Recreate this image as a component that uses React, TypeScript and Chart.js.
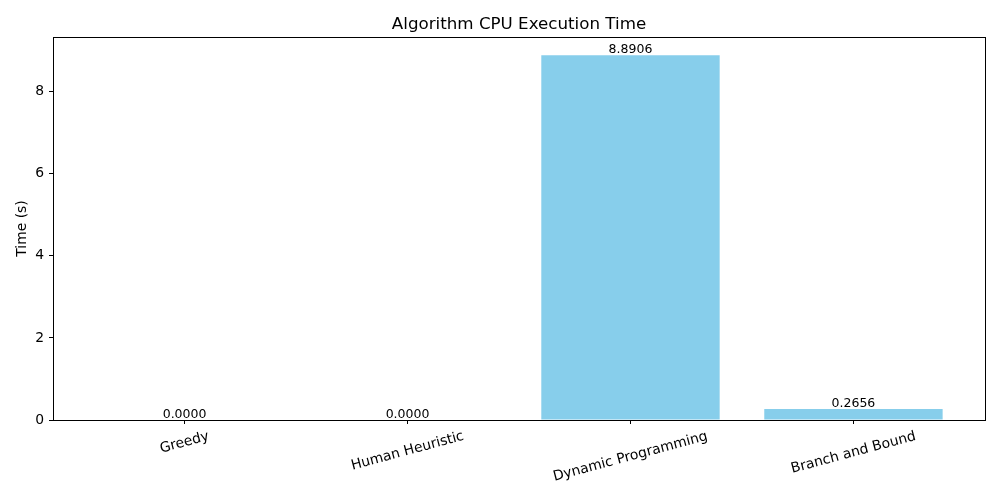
import React, { useEffect, useRef } from "react";
import { Chart, registerables } from "chart.js";

Chart.register(...registerables);

const categories = ["Greedy", "Human Heuristic", "Dynamic Programming", "Branch and Bound"];
const times = [0.0, 0.0, 8.8906, 0.2656];
const yTicks = [0, 2, 4, 6, 8];
const titleText = "Algorithm CPU Execution Time";
const yLabel = "Time (s)";

const FONT = "'DejaVu Sans', sans-serif";

const overlay = {
  id: "overlay",
  afterDraw(chart: any) {
    const ctx = chart.ctx;
    const ca = chart.chartArea;
    const xs = chart.scales.x;
    const ys = chart.scales.y;
    ctx.save();
    // axes box
    ctx.strokeStyle = "#000";
    ctx.lineWidth = 1;
    ctx.strokeRect(Math.round(ca.left) + 0.5, Math.round(ca.top) + 0.5, Math.round(ca.right - ca.left), Math.round(ca.bottom - ca.top));
    // title
    ctx.fillStyle = "#000";
    ctx.font = `16.7px ${FONT}`;
    ctx.textAlign = "center";
    ctx.textBaseline = "alphabetic";
    ctx.fillText(titleText, (ca.left + ca.right) / 2, ca.top - 8.5);
    // y label
    ctx.save();
    ctx.translate(22, (ca.top + ca.bottom) / 2);
    ctx.rotate(-Math.PI / 2);
    ctx.font = `13.9px ${FONT}`;
    ctx.textBaseline = "middle";
    ctx.fillText(yLabel, 0, 0);
    ctx.restore();
    // bar value labels
    ctx.font = `12.5px ${FONT}`;
    ctx.textAlign = "center";
    ctx.textBaseline = "bottom";
    times.forEach((v, i) => {
      ctx.fillText(v.toFixed(4), xs.getPixelForValue(i), ys.getPixelForValue(v) + 1);
    });
    // x tick labels rotated 15deg, centered on tick
    ctx.font = `13.9px ${FONT}`;
    ctx.textAlign = "center";
    ctx.textBaseline = "middle";
    const ang = (15 * Math.PI) / 180;
    const h = 16;
    categories.forEach((c, i) => {
      const w = ctx.measureText(c).width;
      const bboxH = w * Math.sin(ang) + h * Math.cos(ang);
      const cx = xs.getPixelForValue(i);
      const cy = ca.bottom + 3.5 + 4.9 + bboxH / 2;
      ctx.save();
      ctx.translate(cx, cy);
      ctx.rotate(-ang);
      ctx.fillText(c, 0, 0);
      ctx.restore();
    });
    ctx.restore();
  },
};

export default function App() {
  const ref = useRef<HTMLCanvasElement>(null);
  useEffect(() => {
    const chart = new Chart(ref.current!, {
      type: "bar",
      data: {
        datasets: [
          {
            data: times.map((v, i) => ({ x: i, y: v })),
            backgroundColor: "#87CEEB",
            borderColor: "#87CEEB",
            borderWidth: 0,
            inflateAmount: 0,
            barPercentage: 0.8,
            categoryPercentage: 1,
          },
        ],
      },
      options: {
        responsive: false,
        animation: false,
        devicePixelRatio: 1,
        layout: { padding: { top: 37, right: 15, left: 0, bottom: 0 } },
        plugins: { legend: { display: false }, title: { display: false }, tooltip: { enabled: false } },
        scales: {
          x: {
            type: "linear",
            offset: false,
            min: -0.59,
            max: 3.59,
            afterBuildTicks: (s: any) => {
              s.ticks = categories.map((_, i) => ({ value: i }));
            },
            afterFit: (s: any) => {
              s.height = 80;
            },
            ticks: { display: false },
            grid: { offset: false, drawOnChartArea: false, drawTicks: true, tickLength: 4, color: "#000", lineWidth: 1 },
            border: { display: false },
          },
          y: {
            min: 0,
            max: 9.335,
            afterBuildTicks: (s: any) => {
              s.ticks = yTicks.map((v) => ({ value: v }));
            },
            afterFit: (s: any) => {
              s.width = 53;
            },
            ticks: { color: "#000", font: { family: FONT, size: 13.9 }, padding: 5 },
            grid: { drawOnChartArea: false, drawTicks: true, tickLength: 4, color: "#000", lineWidth: 1 },
            border: { display: false },
          },
        },
      },
      plugins: [overlay],
    } as any);
    return () => chart.destroy();
  }, []);
  return (
    <div style={{ position: "absolute", left: 0, top: 0, width: 1000, height: 500, background: "#fff" }}>
      <canvas ref={ref} width={1000} height={500} style={{ display: "block" }} />
    </div>
  );
}
